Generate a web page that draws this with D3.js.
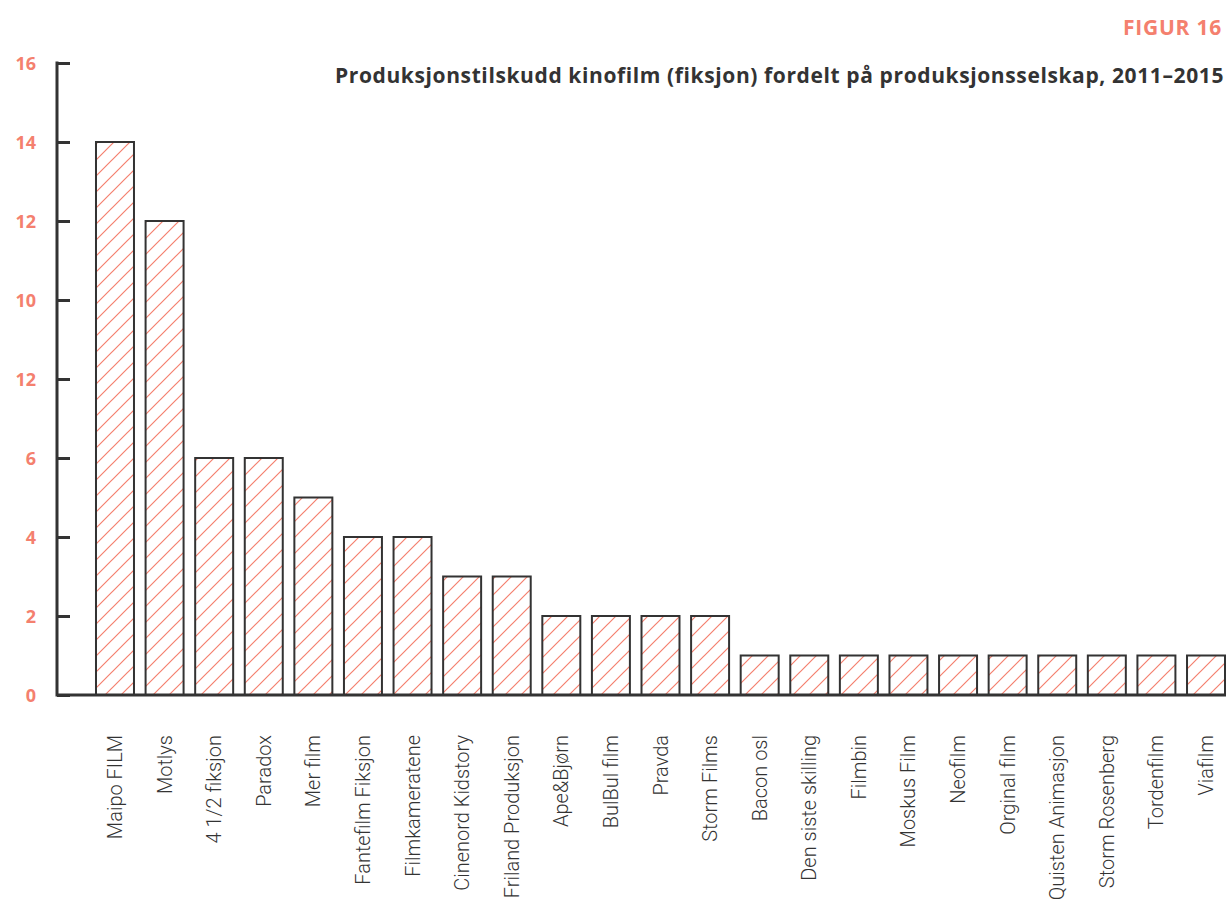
<!DOCTYPE html>
<html>
<head>
<meta charset="utf-8">
<script src="https://cdn.jsdelivr.net/npm/d3@7"></script>
<style>
  body { margin: 0; background: #fff; }
  svg { display: block; font-family: "Open Sans", Lato, sans-serif; }
</style>
</head>
<body>
<div id="chart"></div>
<script>
// data
const companies = [
  'Maipo FILM', 'Motlys', '4 1/2 fiksjon', 'Paradox', 'Mer film', 'Fantefilm Fiksjon',
  'Filmkameratene', 'Cinenord Kidstory', 'Friland Produksjon', 'Ape&Bjørn', 'BulBul film',
  'Pravda', 'Storm Films', 'Bacon osl', 'Den siste skilling', 'Filmbin', 'Moskus Film',
  'Neofilm', 'Orginal film', 'Quisten Animasjon', 'Storm Rosenberg', 'Tordenfilm', 'Viafilm'
];
const counts = [14, 12, 6, 6, 5, 4, 4, 3, 3, 2, 2, 2, 2, 1, 1, 1, 1, 1, 1, 1, 1, 1, 1];
const yTicks = [0, 2, 4, 6, 8, 10, 12, 14, 16];
// tick labels as printed in the original (incl. the "12" at 8)
const yTickLabels = ['0', '2', '4', '6', '12', '10', '12', '14', '16'];

const title = 'Produksjonstilskudd kinofilm (fiksjon) fordelt på produksjonsselskap, 2011–2015';
const figLabel = 'FIGUR 16';

const W = 1226, H = 907;
const salmon = '#f4806e';
const dark = '#333333';

const svg = d3.select('#chart').append('svg')
  .attr('width', W)
  .attr('height', H);

// hatch pattern
const defs = svg.append('defs');
const pat = defs.append('pattern')
  .attr('id', 'hatch')
  .attr('patternUnits', 'userSpaceOnUse')
  .attr('width', 16)
  .attr('height', 16);
pat.append('path')
  .attr('d', 'M-4,4 L4,-4 M0,16 L16,0 M12,20 L20,12')
  .attr('stroke', salmon)
  .attr('stroke-width', 1.2);

const x = d3.scaleBand()
  .domain(companies)
  .range([71.2, 1249.8])
  .paddingInner(0.234)
  .paddingOuter(0.5);

const y = d3.scaleLinear()
  .domain([0, 16])
  .range([695, 63]);

const axisX = 57;

// bars
svg.append('g')
  .selectAll('rect')
  .data(companies)
  .join('rect')
  .attr('x', d => x(d))
  .attr('y', (d, i) => y(counts[i]))
  .attr('width', x.bandwidth())
  .attr('height', (d, i) => y(0) - y(counts[i]))
  .attr('fill', 'url(#hatch)')
  .attr('stroke', dark)
  .attr('stroke-width', 2);

// y axis (ticks pointing inward)
const yAxis = svg.append('g')
  .attr('transform', `translate(${axisX},0)`)
  .call(d3.axisRight(y)
    .tickValues(yTicks)
    .tickSize(13)
    .tickFormat((d, i) => yTickLabels[i]));
yAxis.select('.domain').remove();
yAxis.selectAll('.tick line')
  .attr('stroke', dark)
  .attr('stroke-width', 3);
yAxis.selectAll('.tick text')
  .attr('x', -21)
  .attr('dy', '0.36em')
  .attr('text-anchor', 'end')
  .attr('fill', salmon)
  .attr('font-family', '"Open Sans", sans-serif')
  .attr('font-size', 18)
  .attr('font-weight', 700);

svg.append('line')
  .attr('x1', axisX).attr('x2', axisX)
  .attr('y1', y(16) - 1.5).attr('y2', y(0) + 1.5)
  .attr('stroke', dark)
  .attr('stroke-width', 3);

// baseline
svg.append('line')
  .attr('x1', axisX).attr('x2', W)
  .attr('y1', y(0)).attr('y2', y(0))
  .attr('stroke', dark)
  .attr('stroke-width', 3);

// x labels, rotated
svg.append('g')
  .selectAll('text')
  .data(companies)
  .join('text')
  .attr('transform', d => `translate(${x(d) + x.bandwidth() / 2 + 7},735) rotate(-90)`)
  .attr('text-anchor', 'end')
  .attr('fill', dark)
  .attr('font-family', 'Roboto, sans-serif')
  .attr('font-size', 20)
  .attr('font-weight', 300)
  .text(d => d);

// stretch a text to a measured width with letter-spacing
function fitWidth(sel, target) {
  const n = sel.text().length;
  const w = sel.node().getComputedTextLength();
  sel.attr('letter-spacing', ((target - w) / n).toFixed(2));
}

// titles
svg.append('text')
  .attr('x', 1222)
  .attr('y', 35)
  .attr('text-anchor', 'end')
  .attr('fill', salmon)
  .attr('font-size', 21)
  .attr('font-weight', 700)
  .text(figLabel)
  .call(fitWidth, 99);

svg.append('text')
  .attr('x', 1224)
  .attr('y', 83)
  .attr('text-anchor', 'end')
  .attr('fill', dark)
  .attr('font-size', 21)
  .attr('font-weight', 700)
  .text(title)
  .call(fitWidth, 889);
</script>
</body>
</html>
